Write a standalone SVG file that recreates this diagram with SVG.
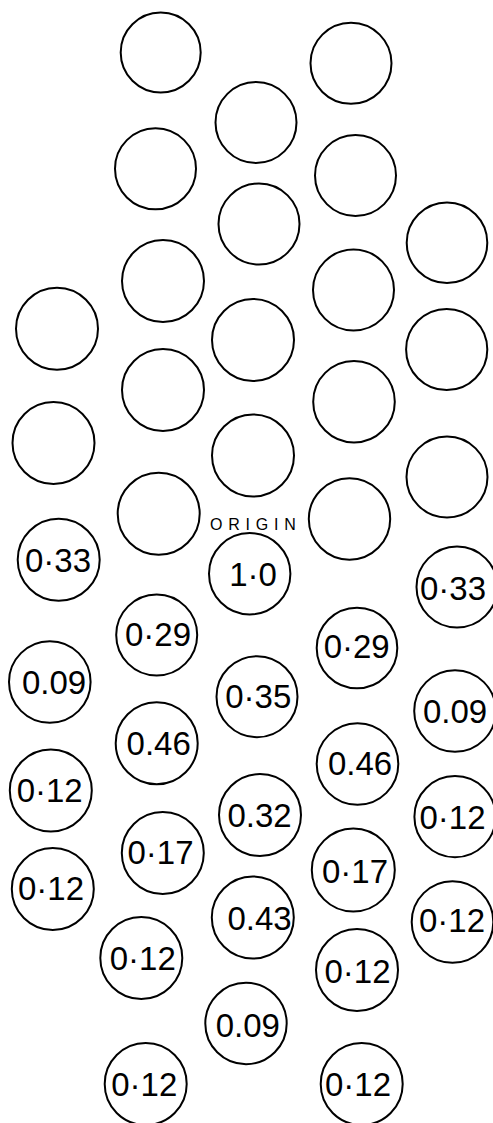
<svg xmlns="http://www.w3.org/2000/svg" width="493" height="1123" viewBox="0 0 493 1123">
<style>
circle{fill:none;stroke:#000;stroke-width:2}
text{font-family:"Liberation Sans",Arial,sans-serif;font-size:33px;fill:#000;text-anchor:middle}
.o{font-size:16px;letter-spacing:5.8px;text-anchor:start}
</style>
<rect width="493" height="1123" fill="#fff"/>
<g id="empty">
<g id="c1"><circle cx="160.7" cy="52.5" r="40"/></g>
<g id="c2"><circle cx="351" cy="63.3" r="40.5"/></g>
<g id="c3"><circle cx="256" cy="122.5" r="40.5"/></g>
<g id="c4"><circle cx="155.5" cy="168.8" r="40.5"/></g>
<g id="c5"><circle cx="355.5" cy="175.5" r="40.5"/></g>
<g id="c6"><circle cx="259" cy="224" r="40.5"/></g>
<g id="c7"><circle cx="447" cy="242.7" r="40.3"/></g>
<g id="c8"><circle cx="163" cy="281" r="41"/></g>
<g id="c9"><circle cx="353.5" cy="290" r="40.5"/></g>
<g id="c10"><circle cx="57" cy="328.7" r="41"/></g>
<g id="c11"><circle cx="253" cy="340" r="41"/></g>
<g id="c12"><circle cx="446.7" cy="349.5" r="40.6"/></g>
<g id="c13"><circle cx="163" cy="390" r="41"/></g>
<g id="c14"><circle cx="354" cy="401.7" r="40.8"/></g>
<g id="c15"><circle cx="53.5" cy="443" r="41"/></g>
<g id="c16"><circle cx="253" cy="455.5" r="41"/></g>
<g id="c17"><circle cx="447" cy="477" r="40.5"/></g>
<g id="c18"><circle cx="158.7" cy="513.7" r="41"/></g>
<g id="c19"><circle cx="349.5" cy="519" r="40.7"/></g>
</g>
<g id="origin-label"><text class="o" x="210" y="529.5">ORIGIN</text></g>
<g id="n-origin"><circle cx="249.7" cy="573.7" r="40.7"/><text x="253" y="586">1·0</text></g>
<g id="n1"><circle cx="58.7" cy="559.7" r="41"/><text x="58" y="571.5">0·33</text></g>
<g id="n2"><circle cx="457" cy="587" r="40.5"/><text x="453" y="600">0·33</text></g>
<g id="n3"><circle cx="156.7" cy="635" r="40.5"/><text x="158" y="646">0·29</text></g>
<g id="n4"><circle cx="357" cy="648" r="40.3"/><text x="356.7" y="658">0·29</text></g>
<g id="n5"><circle cx="49.8" cy="682" r="40.8"/><text x="54" y="694">0.09</text></g>
<g id="n6"><circle cx="257" cy="696.7" r="40.5"/><text x="258.3" y="708">0·35</text></g>
<g id="n7"><circle cx="455" cy="711" r="40.8"/><text x="455" y="723">0.09</text></g>
<g id="n8"><circle cx="156.7" cy="743.3" r="41"/><text x="158.7" y="755">0.46</text></g>
<g id="n9"><circle cx="357.5" cy="764" r="40.8"/><text x="360" y="775">0.46</text></g>
<g id="n10"><circle cx="50.8" cy="790.5" r="41"/><text x="49.7" y="801.5">0·12</text></g>
<g id="n11"><circle cx="260" cy="815" r="41"/><text x="259.6" y="826.5">0.32</text></g>
<g id="n12"><circle cx="455" cy="816.7" r="40.6"/><text x="452.5" y="828.5">0·12</text></g>
<g id="n13"><circle cx="162.8" cy="853" r="41"/><text x="160.5" y="863.5">0·17</text></g>
<g id="n14"><circle cx="353.3" cy="870" r="41.5"/><text x="355" y="882.5">0·17</text></g>
<g id="n15"><circle cx="52.8" cy="889" r="41"/><text x="51" y="900">0·12</text></g>
<g id="n16"><circle cx="252.8" cy="917.5" r="41"/><text x="259.6" y="930">0.43</text></g>
<g id="n17"><circle cx="452.5" cy="922" r="40.8"/><text x="452" y="932">0·12</text></g>
<g id="n18"><circle cx="141.3" cy="958" r="41"/><text x="142.8" y="970">0·12</text></g>
<g id="n19"><circle cx="357" cy="970" r="41"/><text x="357.5" y="982.5">0·12</text></g>
<g id="n20"><circle cx="246" cy="1023.5" r="40.7"/><text x="247.8" y="1037">0.09</text></g>
<g id="n21"><circle cx="145.7" cy="1084" r="41"/><text x="144.3" y="1096">0·12</text></g>
<g id="n22"><circle cx="361.7" cy="1084" r="41"/><text x="358" y="1096">0·12</text></g>
</svg>
